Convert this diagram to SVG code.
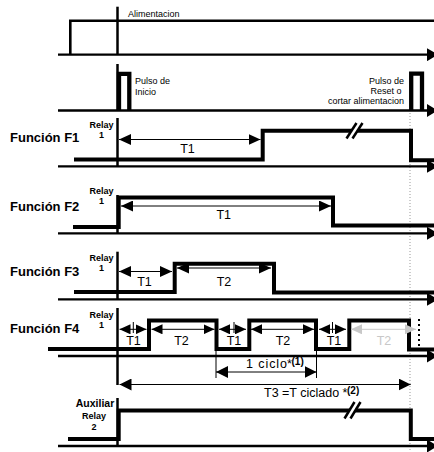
<svg xmlns="http://www.w3.org/2000/svg" width="434" height="452" viewBox="0 0 434 452">
<style>
text{font-family:"Liberation Sans",Arial,sans-serif;fill:#000}
.fn{font-size:13px;font-weight:bold}
.rl{font-size:9px;font-weight:bold;text-anchor:middle}
.sm{font-size:9px}
.smr{font-size:9px;text-anchor:end}
.t{font-size:12.5px;text-anchor:middle}
.tl{font-size:12.5px}
.sup{font-size:10px;font-weight:bold}
.gray{fill:#c8c8c8}
.base{stroke:#000;stroke-width:2.3;fill:none;marker-end:url(#ahBase)}
.sig{stroke:#000;stroke-width:4;fill:none;stroke-linejoin:miter}
.guide{stroke:#000;stroke-width:2.5}
.thin{stroke:#000;stroke-width:1}
.dim{stroke:#000;stroke-width:1;marker-start:url(#ah);marker-end:url(#ah)}
.dims{stroke:#000;stroke-width:1;marker-start:url(#ahs);marker-end:url(#ahs)}
.dimb{stroke:#000;stroke-width:1;marker-start:url(#ahb);marker-end:url(#ahb)}
.dimg{stroke:#c8c8c8;stroke-width:1;marker-start:url(#ahg);marker-end:url(#ahg)}
.brk{stroke:#000;stroke-width:2.5}
</style>
<defs>
<marker id="ah" viewBox="0 0 12 11" refX="12" refY="5.5" markerWidth="12" markerHeight="11" markerUnits="userSpaceOnUse" orient="auto-start-reverse"><path d="M0,0L12,5.5L0,11Z"/></marker>
<marker id="ahs" viewBox="0 0 11 10" refX="11" refY="5" markerWidth="11" markerHeight="10" markerUnits="userSpaceOnUse" orient="auto-start-reverse"><path d="M0,0L11,5L0,10Z"/></marker>
<marker id="ahg" viewBox="0 0 11 10" refX="11" refY="5" markerWidth="11" markerHeight="10" markerUnits="userSpaceOnUse" orient="auto-start-reverse"><path d="M0,0L11,5L0,10Z" fill="#c8c8c8"/></marker>
<marker id="ahb" viewBox="0 0 12 12" refX="12" refY="6" markerWidth="12" markerHeight="12" markerUnits="userSpaceOnUse" orient="auto-start-reverse"><path d="M0,0L12,6L0,12Z"/></marker>
<marker id="ahBase" viewBox="0 0 11 13" refX="11" refY="6.5" markerWidth="11" markerHeight="13" markerUnits="userSpaceOnUse" orient="auto"><path d="M0,0L11,6.5L0,13Z"/></marker>
</defs>

<g id="guides">
<line x1="410" y1="113" x2="410" y2="452" stroke="#999" stroke-width="1" stroke-dasharray="1 2"/>
<line class="guide" x1="117.5" y1="6.7" x2="117.5" y2="55"/>
<line class="guide" x1="117.5" y1="64" x2="117.5" y2="110.5"/>
<line class="guide" x1="117.5" y1="118" x2="117.5" y2="167"/>
<line class="guide" x1="117.5" y1="195" x2="117.5" y2="233"/>
<line class="guide" x1="117.5" y1="251.7" x2="117.5" y2="300"/>
<line class="guide" x1="117.5" y1="308" x2="117.5" y2="385"/>
<line class="guide" x1="117.5" y1="398" x2="117.5" y2="447"/>
</g>

<g id="alimentacion">
<line class="base" x1="58" y1="54.7" x2="438" y2="54.7"/>
<path d="M70.3,54.7V20.7H434" stroke="#000" stroke-width="2.6" fill="none"/>
<text class="sm" x="128" y="16.5">Alimentacion</text>
</g>

<g id="pulsos">
<line class="base" x1="58" y1="110.5" x2="438" y2="110.5"/>
<path d="M119,110.5V73.8H129.3V110.5" stroke="#000" stroke-width="4.3" fill="none"/>
<text class="sm" x="135" y="84.3">Pulso de</text>
<text class="sm" x="135" y="94.6">Inicio</text>
<path d="M411.2,110.5V73.7H422V110.5" stroke="#000" stroke-width="4.3" fill="none"/>
<text class="smr" x="404" y="83.6">Pulso de</text>
<text class="smr" x="401.5" y="93.8">Reset o</text>
<text class="smr" x="404" y="104">cortar alimentacion</text>
</g>

<g id="f1">
<text class="fn" x="10" y="142.3">Función F1</text>
<text class="rl" x="101.5" y="127.7">Relay</text>
<text class="rl" x="101.5" y="138.3">1</text>
<line class="base" x1="58" y1="166.3" x2="438" y2="166.3"/>
<path class="sig" d="M74,159.5H262.7V130.8H411V160.3H434"/>
<polygon points="346.5,138.5 356.5,123 362.5,123 352.5,138.5" fill="#fff"/>
<line class="brk" x1="346.5" y1="138.5" x2="356.5" y2="123"/>
<line class="brk" x1="352.5" y1="138.5" x2="362.5" y2="123"/>
<text class="t" x="187.5" y="153">T1</text>
</g>

<g id="f2">
<text class="fn" x="10" y="210.7">Función F2</text>
<text class="rl" x="101.5" y="194.3">Relay</text>
<text class="rl" x="101.5" y="203.7">1</text>
<line class="base" x1="58" y1="233.3" x2="438" y2="233.3"/>
<path class="sig" d="M73,227H118.7V197.5H333V225.5H434"/>
<text class="t" x="223.7" y="219">T1</text>
</g>

<g id="f3">
<text class="fn" x="10" y="276">Función F3</text>
<text class="rl" x="101.5" y="261">Relay</text>
<text class="rl" x="101.5" y="270.7">1</text>
<line class="base" x1="58" y1="299.3" x2="438" y2="299.3"/>
<path class="sig" d="M74,292H174.7V263.8H274V292.5H434"/>
<text class="t" x="144.5" y="285.7">T1</text>
<text class="t" x="224" y="285.7">T2</text>
</g>

<g id="f4">
<text class="fn" x="10" y="333">Función F4</text>
<text class="rl" x="101.5" y="318.3">Relay</text>
<text class="rl" x="101.5" y="328">1</text>
<line class="base" x1="58" y1="356" x2="438" y2="356"/>
<path class="sig" d="M48,349H149V320.5H216.5V349H249.3V320.5H316V349H349.3V320.5H409V349.5H434"/>
<line x1="419" y1="319" x2="419" y2="347" stroke="#000" stroke-width="2" stroke-dasharray="2 3"/>
<text class="t" x="133.5" y="345">T1</text>
<text class="t" x="181.5" y="345">T2</text>
<text class="t" x="234" y="345">T1</text>
<text class="t" x="283" y="345">T2</text>
<text class="t" x="334" y="345">T1</text>
<text class="t gray" x="384" y="345">T2</text>
</g>

<g id="auxiliar">
<text x="95" y="407.3" font-size="10.5" font-weight="bold" text-anchor="middle">Auxiliar</text>
<text class="rl" x="94" y="419">Relay</text>
<text class="rl" x="94" y="430">2</text>
<line class="base" x1="58" y1="446" x2="438" y2="446"/>
<path class="sig" d="M68,439H118.7V410.5H410.8V439H434"/>
<polygon points="344.5,418.5 354.5,402 360.5,402 350.5,418.5" fill="#fff"/>
<line class="brk" x1="344.5" y1="418.5" x2="354.5" y2="402"/>
<line class="brk" x1="350.5" y1="418.5" x2="360.5" y2="402"/>
</g>

<g id="connectors">
<line class="dim" x1="119" y1="139.5" x2="260.5" y2="139.5"/>
<line class="dim" x1="121" y1="206" x2="331" y2="206"/>
<line class="dim" x1="119" y1="271.5" x2="172" y2="271.5"/>
<line class="dim" x1="177" y1="268" x2="271" y2="268"/>
<line class="dims" x1="119.5" y1="329.3" x2="146.5" y2="329.3"/>
<line class="dims" x1="151.5" y1="329.3" x2="214.5" y2="329.3"/>
<line class="dims" x1="219" y1="329.3" x2="246" y2="329.3"/>
<line class="dims" x1="251" y1="329.3" x2="314" y2="329.3"/>
<line class="dims" x1="319" y1="329.3" x2="346" y2="329.3"/>
<line class="dimg" x1="351" y1="329.3" x2="416" y2="329.3"/>
<line class="thin" x1="133.3" y1="322" x2="133.3" y2="333"/>
<line class="thin" x1="234" y1="322" x2="234" y2="333"/>
<line class="thin" x1="332.5" y1="322" x2="332.5" y2="333"/>
<line class="thin" x1="216" y1="351" x2="216" y2="378"/>
<line class="thin" x1="316.5" y1="351" x2="316.5" y2="378"/>
<line class="dimb" x1="216" y1="372" x2="316.5" y2="372"/>
<line class="dimb" x1="119.5" y1="384.5" x2="410.7" y2="384.5"/>
<text class="tl" x="246" y="368.3" textLength="41" lengthAdjust="spacing">1 ciclo</text>
<text class="tl" x="287" y="368.3">*</text>
<text class="sup" x="291.5" y="364.5">(1)</text>
<text class="tl" x="264" y="396.7">T3 =T ciclado</text>
<text class="tl" x="342.5" y="396.7">*</text>
<text class="sup" x="347" y="394">(2)</text>
</g>
</svg>
